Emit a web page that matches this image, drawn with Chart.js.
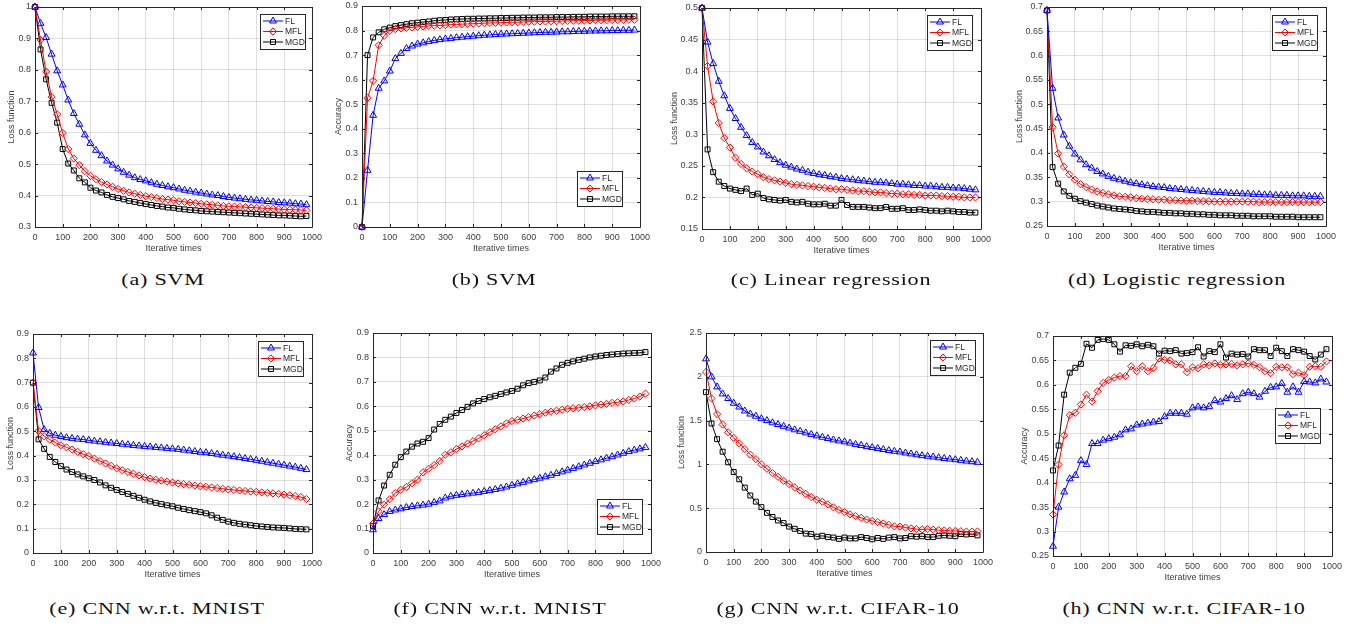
<!DOCTYPE html>
<html><head><meta charset="utf-8">
<script src="https://cdn.jsdelivr.net/npm/chart.js@4.4.0/dist/chart.umd.min.js"></script>
<style>
html,body{margin:0;padding:0;background:#fff}
body{width:1354px;height:629px;position:relative;overflow:hidden}
canvas{position:absolute}
.cap{position:absolute;font-family:"Liberation Serif","DejaVu Serif",serif;font-size:17px;letter-spacing:0.6px;color:#111;white-space:nowrap;transform:translate(-50%,-50%) scaleX(1.3);}
</style></head><body>
<script>
// ---------- data ----------
const iterations = [0,20,40,60,80,100,120,140,160,180,200,220,240,260,280,300,320,340,360,380,400,420,440,460,480,500,520,540,560,580,600,620,640,660,680,700,720,740,760,780,800,820,840,860,880,900,920,940,960,980];
const seriesNames = ['FL','MFL','MGD'];

// (a) SVM loss
const svmLossFL = [1.0,0.948,0.903,0.85,0.797,0.752,0.704,0.661,0.627,0.593,0.566,0.544,0.527,0.51,0.497,0.485,0.474,0.465,0.457,0.451,0.447,0.441,0.436,0.432,0.428,0.425,0.421,0.417,0.414,0.411,0.408,0.405,0.402,0.4,0.397,0.394,0.392,0.39,0.388,0.386,0.385,0.383,0.381,0.38,0.378,0.377,0.376,0.374,0.373,0.371];
const svmLossMFL = [1.0,0.895,0.794,0.714,0.659,0.599,0.548,0.518,0.497,0.478,0.463,0.452,0.443,0.435,0.428,0.421,0.415,0.41,0.406,0.402,0.398,0.395,0.392,0.389,0.387,0.385,0.382,0.38,0.378,0.376,0.374,0.372,0.371,0.369,0.367,0.366,0.365,0.364,0.363,0.362,0.361,0.36,0.359,0.358,0.357,0.356,0.355,0.355,0.354,0.353];
const svmLossMGD = [1.0,0.865,0.77,0.695,0.632,0.548,0.502,0.48,0.455,0.442,0.425,0.416,0.41,0.402,0.396,0.392,0.388,0.383,0.38,0.376,0.373,0.37,0.367,0.365,0.362,0.361,0.358,0.356,0.354,0.353,0.351,0.35,0.349,0.348,0.347,0.346,0.345,0.344,0.343,0.342,0.341,0.34,0.339,0.338,0.337,0.337,0.336,0.335,0.334,0.335];
// (b) SVM accuracy
const svmAccFL = [0,0.231,0.455,0.565,0.595,0.635,0.686,0.707,0.727,0.737,0.745,0.75,0.755,0.76,0.763,0.766,0.768,0.771,0.773,0.775,0.777,0.779,0.781,0.782,0.784,0.785,0.786,0.787,0.788,0.789,0.79,0.791,0.792,0.793,0.793,0.794,0.795,0.795,0.796,0.797,0.797,0.798,0.798,0.799,0.799,0.8,0.8,0.801,0.801,0.802];
const svmAccMFL = [0,0.526,0.595,0.74,0.779,0.799,0.806,0.809,0.811,0.813,0.815,0.817,0.819,0.82,0.821,0.822,0.824,0.825,0.826,0.827,0.828,0.829,0.83,0.831,0.831,0.832,0.833,0.834,0.834,0.835,0.836,0.836,0.837,0.837,0.838,0.838,0.839,0.839,0.84,0.84,0.841,0.841,0.842,0.842,0.842,0.843,0.843,0.843,0.844,0.844];
const svmAccMGD = [0,0.70,0.772,0.793,0.805,0.812,0.818,0.822,0.826,0.83,0.832,0.835,0.837,0.84,0.842,0.843,0.845,0.846,0.847,0.848,0.848,0.849,0.849,0.85,0.85,0.851,0.851,0.852,0.852,0.853,0.853,0.853,0.854,0.854,0.854,0.855,0.855,0.855,0.856,0.856,0.856,0.857,0.857,0.857,0.857,0.858,0.858,0.858,0.858,0.858];
// (c) Linear regression loss
const linLossFL = [0.5,0.446,0.412,0.384,0.361,0.341,0.325,0.311,0.298,0.287,0.28,0.272,0.266,0.26,0.255,0.251,0.248,0.245,0.243,0.24,0.238,0.236,0.235,0.233,0.232,0.23,0.229,0.228,0.227,0.226,0.225,0.224,0.224,0.223,0.222,0.221,0.221,0.22,0.219,0.219,0.218,0.218,0.217,0.216,0.216,0.215,0.215,0.214,0.213,0.212];
const linLossMFL = [0.5,0.408,0.352,0.318,0.294,0.279,0.263,0.253,0.246,0.241,0.237,0.232,0.229,0.227,0.225,0.223,0.221,0.22,0.219,0.218,0.217,0.216,0.215,0.214,0.213,0.213,0.212,0.211,0.21,0.21,0.209,0.208,0.208,0.207,0.206,0.206,0.205,0.205,0.204,0.204,0.203,0.203,0.203,0.202,0.202,0.201,0.201,0.2,0.2,0.2];
const linLossMGD = [0.5,0.276,0.24,0.225,0.218,0.214,0.212,0.21,0.214,0.204,0.206,0.199,0.197,0.196,0.195,0.196,0.193,0.192,0.193,0.19,0.189,0.189,0.19,0.187,0.187,0.196,0.188,0.185,0.185,0.185,0.184,0.183,0.183,0.185,0.182,0.182,0.183,0.18,0.18,0.181,0.18,0.179,0.179,0.178,0.179,0.178,0.177,0.177,0.176,0.176];
// (d) Logistic regression loss
const logLossFL = [0.693,0.533,0.472,0.437,0.414,0.398,0.386,0.376,0.369,0.362,0.357,0.352,0.348,0.345,0.342,0.339,0.337,0.335,0.333,0.331,0.33,0.329,0.327,0.326,0.325,0.324,0.323,0.322,0.321,0.32,0.319,0.319,0.318,0.317,0.317,0.316,0.316,0.315,0.315,0.314,0.314,0.313,0.313,0.313,0.312,0.312,0.312,0.311,0.311,0.311];
const logLossMFL = [0.693,0.453,0.399,0.372,0.356,0.345,0.336,0.33,0.325,0.321,0.318,0.315,0.313,0.311,0.31,0.309,0.307,0.306,0.305,0.305,0.304,0.304,0.303,0.303,0.302,0.302,0.302,0.301,0.301,0.301,0.3,0.3,0.3,0.3,0.3,0.3,0.3,0.3,0.299,0.299,0.299,0.299,0.299,0.299,0.299,0.299,0.299,0.299,0.299,0.299];
const logLossMGD = [0.693,0.371,0.337,0.321,0.312,0.306,0.301,0.298,0.295,0.292,0.29,0.288,0.286,0.285,0.284,0.283,0.281,0.28,0.279,0.279,0.278,0.277,0.277,0.276,0.276,0.275,0.275,0.274,0.274,0.273,0.273,0.272,0.272,0.272,0.271,0.271,0.271,0.27,0.27,0.27,0.27,0.269,0.269,0.269,0.269,0.268,0.268,0.268,0.268,0.268];
// (e) CNN MNIST loss
const mnistLossFL = [0.822,0.598,0.507,0.492,0.484,0.479,0.474,0.471,0.468,0.466,0.463,0.46,0.457,0.455,0.452,0.45,0.447,0.445,0.442,0.44,0.438,0.436,0.434,0.432,0.43,0.428,0.426,0.423,0.42,0.417,0.414,0.412,0.409,0.406,0.402,0.399,0.396,0.392,0.388,0.385,0.381,0.377,0.373,0.369,0.365,0.361,0.357,0.353,0.348,0.343];
const mnistLossMFL = [0.70,0.502,0.48,0.466,0.454,0.443,0.434,0.425,0.416,0.406,0.398,0.388,0.378,0.368,0.358,0.348,0.34,0.333,0.326,0.319,0.312,0.306,0.301,0.297,0.293,0.29,0.286,0.283,0.28,0.277,0.274,0.272,0.269,0.267,0.264,0.261,0.259,0.257,0.255,0.253,0.251,0.249,0.247,0.245,0.243,0.24,0.237,0.234,0.23,0.222];
const mnistLossMGD = [0.70,0.467,0.428,0.395,0.374,0.357,0.343,0.333,0.323,0.315,0.307,0.3,0.29,0.278,0.268,0.259,0.251,0.243,0.235,0.227,0.219,0.212,0.206,0.201,0.196,0.192,0.186,0.181,0.176,0.172,0.168,0.163,0.155,0.145,0.136,0.129,0.124,0.12,0.117,0.114,0.111,0.109,0.107,0.105,0.104,0.103,0.101,0.099,0.098,0.097];
// (f) CNN MNIST accuracy
const mnistAccFL = [0.095,0.141,0.157,0.17,0.176,0.181,0.186,0.19,0.193,0.196,0.2,0.207,0.213,0.225,0.232,0.236,0.239,0.242,0.245,0.248,0.252,0.256,0.26,0.265,0.27,0.277,0.283,0.289,0.295,0.3,0.306,0.312,0.318,0.325,0.332,0.339,0.346,0.353,0.36,0.367,0.374,0.381,0.388,0.394,0.401,0.408,0.415,0.421,0.426,0.432];
const mnistAccMFL = [0.12,0.17,0.198,0.22,0.245,0.258,0.27,0.285,0.3,0.33,0.345,0.36,0.376,0.402,0.412,0.425,0.436,0.447,0.458,0.469,0.482,0.494,0.506,0.518,0.53,0.54,0.545,0.55,0.556,0.562,0.568,0.574,0.578,0.582,0.586,0.59,0.592,0.594,0.597,0.6,0.604,0.607,0.61,0.614,0.617,0.62,0.626,0.632,0.64,0.652];
const mnistAccMGD = [0.11,0.215,0.276,0.32,0.361,0.392,0.415,0.435,0.448,0.455,0.47,0.505,0.528,0.545,0.558,0.573,0.585,0.598,0.612,0.622,0.63,0.637,0.643,0.65,0.657,0.663,0.672,0.686,0.695,0.7,0.706,0.718,0.742,0.755,0.77,0.778,0.784,0.79,0.795,0.8,0.804,0.807,0.81,0.812,0.814,0.816,0.817,0.818,0.819,0.822];
// (g) CNN CIFAR-10 loss
const cifarLossFL = [2.205,2.0,1.885,1.805,1.752,1.698,1.655,1.61,1.575,1.55,1.522,1.5,1.475,1.455,1.435,1.415,1.395,1.378,1.36,1.342,1.326,1.31,1.295,1.28,1.268,1.258,1.243,1.228,1.216,1.203,1.192,1.182,1.17,1.158,1.15,1.142,1.13,1.12,1.11,1.1,1.093,1.085,1.076,1.068,1.061,1.054,1.046,1.038,1.031,1.024];
const cifarLossMFL = [2.055,1.753,1.574,1.455,1.366,1.303,1.24,1.175,1.112,1.06,1.0,0.95,0.9,0.858,0.812,0.776,0.738,0.702,0.663,0.627,0.596,0.574,0.544,0.51,0.48,0.455,0.43,0.41,0.39,0.37,0.355,0.342,0.326,0.31,0.292,0.29,0.28,0.27,0.262,0.258,0.262,0.255,0.25,0.246,0.242,0.24,0.238,0.234,0.232,0.235];
const cifarLossMGD = [1.825,1.467,1.288,1.145,1.024,0.913,0.83,0.735,0.645,0.575,0.512,0.447,0.4,0.36,0.33,0.29,0.265,0.24,0.21,0.205,0.175,0.185,0.17,0.165,0.15,0.165,0.155,0.155,0.17,0.16,0.145,0.16,0.15,0.165,0.17,0.155,0.16,0.18,0.175,0.18,0.17,0.17,0.185,0.19,0.185,0.18,0.205,0.2,0.205,0.19];
// (h) CNN CIFAR-10 accuracy
const cifarAccFL = [0.27,0.35,0.381,0.408,0.415,0.445,0.437,0.48,0.48,0.487,0.49,0.493,0.498,0.508,0.51,0.518,0.52,0.522,0.524,0.525,0.535,0.542,0.542,0.542,0.54,0.553,0.555,0.553,0.556,0.568,0.565,0.572,0.578,0.57,0.582,0.585,0.582,0.575,0.587,0.595,0.596,0.603,0.585,0.596,0.585,0.607,0.606,0.604,0.612,0.606];
const cifarAccMFL = [0.335,0.437,0.497,0.538,0.543,0.56,0.58,0.566,0.587,0.604,0.61,0.615,0.618,0.618,0.638,0.628,0.638,0.628,0.635,0.654,0.651,0.65,0.642,0.642,0.626,0.636,0.634,0.642,0.64,0.644,0.641,0.642,0.643,0.64,0.642,0.644,0.641,0.636,0.628,0.624,0.637,0.636,0.636,0.622,0.625,0.62,0.637,0.638,0.637,0.648];
const cifarAccMGD = [0.425,0.476,0.58,0.625,0.635,0.643,0.684,0.676,0.692,0.694,0.692,0.683,0.668,0.681,0.68,0.683,0.679,0.682,0.679,0.664,0.67,0.669,0.671,0.664,0.665,0.667,0.677,0.658,0.669,0.667,0.683,0.656,0.664,0.662,0.663,0.658,0.673,0.671,0.671,0.659,0.676,0.669,0.659,0.673,0.671,0.668,0.659,0.652,0.662,0.673];

const xTicks = [0,100,200,300,400,500,600,700,800,900,1000];

// ---------- layout ----------
const panels = [
  {area:[35,312,7,227], y:[0.3,1,0.1], yTitle:'Loss function', yOff:23, data:[svmLossFL,svmLossMFL,svmLossMGD], leg:[260,14], cap:'(a) SVM', cx:163, cy:280},
  {area:[362,640,6,227], y:[0,0.9,0.1], yTitle:'Accuracy', yOff:23, data:[svmAccFL,svmAccMFL,svmAccMGD], leg:[577,171], cap:'(b) SVM', cx:494, cy:280},
  {area:[702,981,8,229], y:[0.15,0.5,0.05], yTitle:'Loss function', yOff:27, data:[linLossFL,linLossMFL,linLossMGD], leg:[927,15], cap:'(c) Linear regression', cx:831, cy:280},
  {area:[1047,1326,7,226], y:[0.25,0.7,0.05], yTitle:'Loss function', yOff:27, data:[logLossFL,logLossMFL,logLossMGD], leg:[1272,15], cap:'(d) Logistic regression', cx:1177, cy:280},
  {area:[33,312,334,553], y:[0,0.9,0.1], yTitle:'Loss function', yOff:22, data:[mnistLossFL,mnistLossMFL,mnistLossMGD], leg:[258,341], cap:'(e) CNN w.r.t. MNIST', cx:157, cy:609},
  {area:[373,651,333,553], y:[0,0.9,0.1], yTitle:'Accuracy', yOff:23, data:[mnistAccFL,mnistAccMFL,mnistAccMGD], leg:[597,499], cap:'(f) CNN w.r.t. MNIST', cx:500, cy:609},
  {area:[706,983,333,552], y:[0,2.5,0.5], yTitle:'Loss function', yOff:24, data:[cifarLossFL,cifarLossMFL,cifarLossMGD], leg:[930,340], cap:'(g) CNN w.r.t. CIFAR-10', cx:838, cy:609},
  {area:[1053,1332,336,556], y:[0.25,0.7,0.05], yTitle:'Accuracy', yOff:28, data:[cifarAccFL,cifarAccMFL,cifarAccMGD], leg:[1275,408], cap:'(h) CNN w.r.t. CIFAR-10', cx:1184, cy:609}
];

const styles = [
  {color:'#0000ff', pointStyle:'triangle', radius:4},
  {color:'#ff0000', pointStyle:'rectRot', radius:3.6},
  {color:'#000000', pointStyle:'rect', radius:3.5}
];
const AX = '#262626';
const FONT = '"Liberation Sans", Arial, sans-serif';
const YW = 50, PT = 10, PR = 16, XH = 34;

const matlabBox = {
  id: 'mbox',
  afterDatasetsDraw(chart) {
    const {ctx, chartArea: a, scales: {x, y}} = chart;
    ctx.save();
    ctx.strokeStyle = AX; ctx.lineWidth = 1;
    ctx.beginPath();
    ctx.rect(Math.round(a.left) + 0.5, Math.round(a.top) + 0.5, Math.round(a.right - a.left), Math.round(a.bottom - a.top));
    ctx.stroke();
    ctx.beginPath();
    x.ticks.forEach(t => {
      const px = Math.round(x.getPixelForValue(t.value)) + 0.5;
      ctx.moveTo(px, a.bottom); ctx.lineTo(px, a.bottom - 3);
      ctx.moveTo(px, a.top); ctx.lineTo(px, a.top + 3);
    });
    y.ticks.forEach(t => {
      const py = Math.round(y.getPixelForValue(t.value)) + 0.5;
      ctx.moveTo(a.left, py); ctx.lineTo(a.left + 3, py);
      ctx.moveTo(a.right, py); ctx.lineTo(a.right - 3, py);
    });
    ctx.stroke();
    ctx.restore();
  },
  afterDraw(chart) {
    const box = chart.options.plugins.mbox.box;
    if (!box) return;
    const ctx = chart.ctx;
    const bx = box[0], by = box[1], w = 45, h = 35;
    ctx.save();
    ctx.fillStyle = '#fff';
    ctx.fillRect(bx, by, w, h);
    ctx.strokeStyle = AX; ctx.lineWidth = 1;
    ctx.strokeRect(bx + 0.5, by + 0.5, w, h);
    chart.data.datasets.forEach((ds, i) => {
      const cy = by + 7 + i * 10.5;
      ctx.strokeStyle = ds.borderColor; ctx.lineWidth = 1;
      ctx.beginPath(); ctx.moveTo(bx + 3, cy); ctx.lineTo(bx + 23, cy); ctx.stroke();
      ctx.fillStyle = 'rgba(0,0,0,0)';
      Chart.helpers.drawPoint(ctx, {pointStyle: ds.pointStyle, rotation: 0, radius: ds.pointRadius, borderWidth: 1}, bx + 13, cy);
      ctx.fillStyle = AX;
      ctx.font = '8.5px ' + FONT;
      ctx.textBaseline = 'middle'; ctx.textAlign = 'left';
      ctx.fillText(ds.label, bx + 25, cy + 0.5);
    });
    ctx.restore();
  }
};

function fmt(v) { return String(parseFloat(Number(v).toFixed(3))); }

panels.forEach(p => {
  const [l, r, t, b] = p.area;
  const cv = document.createElement('canvas');
  const W = (r - l) + YW + PR, H = (b - t) + PT + XH;
  const left = l - YW, top = t - PT;
  cv.width = W; cv.height = H;
  cv.style.left = left + 'px'; cv.style.top = top + 'px';
  cv.style.width = W + 'px'; cv.style.height = H + 'px';
  document.body.appendChild(cv);

  const datasets = p.data.map((arr, i) => ({
    label: seriesNames[i],
    data: arr.map((v, k) => ({x: iterations[k], y: v})),
    borderColor: styles[i].color,
    borderWidth: 1,
    pointStyle: styles[i].pointStyle,
    pointRadius: styles[i].radius,
    pointBorderWidth: 1,
    pointBorderColor: styles[i].color,
    pointBackgroundColor: 'rgba(0,0,0,0)',
    tension: 0,
    clip: false,
    fill: false
  }));

  new Chart(cv, {
    type: 'line',
    data: {datasets},
    plugins: [matlabBox],
    options: {
      responsive: false, animation: false, events: [],
      devicePixelRatio: 1,
      layout: {padding: {left: 0, top: PT, right: PR, bottom: 0}},
      plugins: {legend: {display: false}, tooltip: {enabled: false}, mbox: {box: [p.leg[0] - left, p.leg[1] - top]}},
      scales: {
        x: {
          type: 'linear', min: 0, max: 1000,
          afterBuildTicks: s => { s.ticks = xTicks.map(v => ({value: v})); },
          afterFit: s => { s.height = XH; s.paddingLeft = 0; s.paddingRight = 0; },
          grid: {color: 'rgba(38,38,38,0.15)', drawTicks: false},
          border: {display: false},
          ticks: {font: {family: FONT, size: 9}, color: '#404040', padding: 5, maxRotation: 0, autoSkip: false, callback: v => fmt(v)},
          title: {display: true, text: 'Iterative times', font: {family: FONT, size: 9}, color: '#404040', padding: {top: 0, bottom: 7}}
        },
        y: {
          type: 'linear', min: p.y[0], max: p.y[1],
          ticks: {stepSize: p.y[2], font: {family: FONT, size: 9}, color: '#404040', padding: 4, autoSkip: false, callback: v => fmt(v)},
          afterFit: s => { s.width = YW; s.paddingTop = 0; s.paddingBottom = 0; },
          grid: {color: 'rgba(38,38,38,0.15)', drawTicks: false},
          border: {display: false},
          title: {display: true, text: p.yTitle, font: {family: FONT, size: 9}, color: '#404040', padding: {top: YW - p.yOff - 5.4, bottom: 0}}
        }
      }
    }
  });

  const c = document.createElement('div');
  c.className = 'cap';
  c.textContent = p.cap;
  c.style.left = p.cx + 'px'; c.style.top = p.cy + 'px';
  document.body.appendChild(c);
});
</script>
</body></html>
